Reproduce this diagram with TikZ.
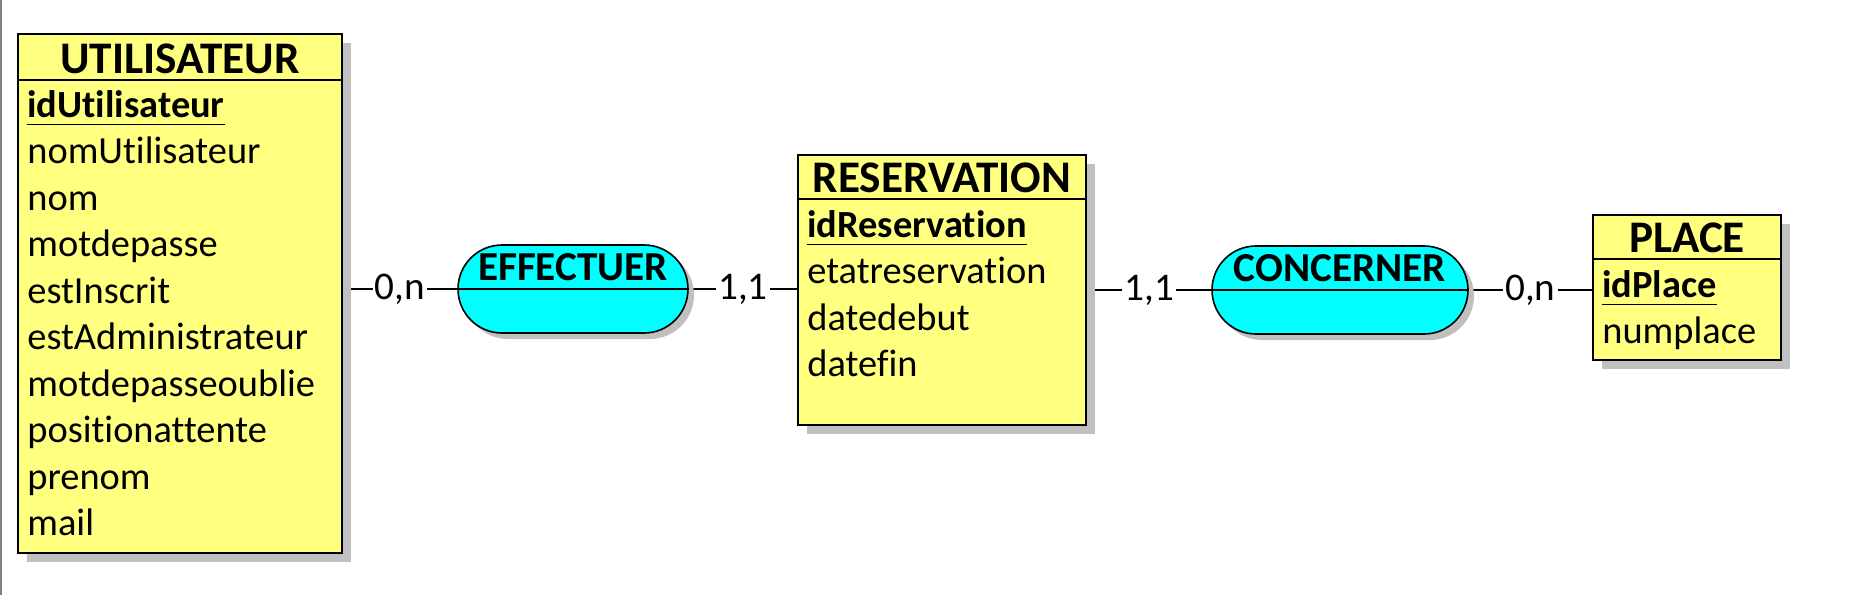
\documentclass[tikz,border=0pt]{standalone}
\usepackage{fontspec}
\setmainfont{Carlito}[Ligatures=NoCommon]
\usetikzlibrary{positioning,calc,backgrounds,shadows,shapes.misc}
\definecolor{entyellow}{RGB}{255,255,128}
\definecolor{asscyan}{RGB}{0,255,255}
\definecolor{shadowgray}{RGB}{192,192,192}

\begin{document}
\begin{tikzpicture}[x=0.5pt,y=-0.5pt,
  entity/.style={rectangle,draw,line width=1pt,fill=entyellow,anchor=north west,inner sep=0pt,
    drop shadow={shadow xshift=4.5pt,shadow yshift=-4.5pt,fill=shadowgray,opacity=1}},
  assoc/.style={rounded rectangle,draw,line width=0.8pt,fill=asscyan,minimum height=44pt,inner sep=0pt,
    drop shadow={shadow xshift=3pt,shadow yshift=-3pt,fill=shadowgray,opacity=1}},
  enttitle/.style={anchor=base,inner sep=0pt,font=\fontsize{22.6}{26}\selectfont\bfseries},
  asstitle/.style={anchor=base,inner sep=0pt,font=\fontsize{20.6}{24}\selectfont\bfseries},
  attr/.style={anchor=base west,inner sep=0pt,font=\fontsize{19.2}{22}\selectfont},
  idattr/.style={attr,font=\fontsize{19.2}{22}\selectfont\bfseries},
  card/.style={fill=white,inner sep=1pt,font=\fontsize{19.6}{22}\selectfont},
  hline/.style={line width=0.8pt},
  conn/.style={draw,line width=0.7pt}]
  \useasboundingbox (0,0) rectangle (1863,595);
  \draw[gray,line width=1pt] (1,0) -- (1,595);

  % entities
  \node[entity,minimum width=162pt,minimum height=259.5pt] (util) at (17,33) {};
  \draw[hline] ($(util.north west)+(0,47)$) -- ($(util.north east)+(0,47)$);
  \node[enttitle] (utilT) at ($(util.north)+(0,40)$) {UTILISATEUR};
  \node[idattr] (utilId) at (27,117) {idUtilisateur};
  \draw ([yshift=-3.5pt]utilId.base west) -- ([yshift=-3.5pt]utilId.base east);
  \foreach \a [count=\i] in {nomUtilisateur,nom,motdepasse,estInscrit,estAdministrateur,
      motdepasseoublie,positionattente,prenom,mail}
    \node[attr] (utilA\i) at (27,117+46.5*\i) {\a};

  \node[entity,minimum width=144pt,minimum height=135pt] (resa) at (797,154) {};
  \draw[hline] ($(resa.north west)+(0,45)$) -- ($(resa.north east)+(0,45)$);
  \node[enttitle] (resaT) at ($(resa.north)+(0,38)$) {RESERVATION};
  \node[idattr] (resaId) at (807,237) {idReservation};
  \draw ([yshift=-3.5pt]resaId.base west) -- ([yshift=-3.5pt]resaId.base east);
  \foreach \a [count=\i] in {etatreservation,datedebut,datefin}
    \node[attr] (resaA\i) at (807,237+46.5*\i) {\a};

  \node[entity,minimum width=94pt,minimum height=72.5pt] (place) at (1592,214) {};
  \draw[hline] ($(place.north west)+(0,45)$) -- ($(place.north east)+(0,45)$);
  \node[enttitle] (placeT) at ($(place.north)+(0,38)$) {PLACE};
  \node[idattr] (placeId) at (1602,297) {idPlace};
  \draw ([yshift=-3.5pt]placeId.base west) -- ([yshift=-3.5pt]placeId.base east);
  \node[attr] (placeA1) at (1602,343.5) {numplace};

  % associations
  \node[assoc,minimum width=115pt] (eff) at (573,289) {};
  \draw[hline] (eff.west) -- (eff.east);
  \node[asstitle] (effT) at (573,280) {EFFECTUER};

  \node[assoc,minimum width=128pt] (conc) at (1340,290) {};
  \draw[hline] (conc.west) -- (conc.east);
  \node[asstitle] (concT) at (1340,281) {CONCERNER};

  % links
  \begin{scope}[on background layer]
  \path (util.east |- eff.west) edge[conn] node[card] {0,n} (eff.west)
        (eff.east) edge[conn] node[card] {1,1} (eff.east -| resa.west)
        (resa.east |- conc.west) edge[conn] node[card] {1,1} (conc.west)
        (conc.east) edge[conn] node[card] {0,n} (conc.east -| place.west);
  \end{scope}
\end{tikzpicture}
\end{document}
